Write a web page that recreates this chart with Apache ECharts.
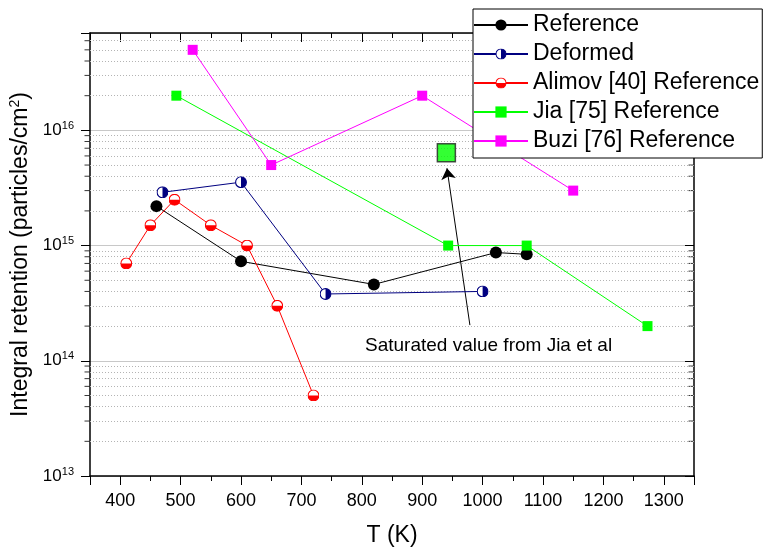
<!DOCTYPE html>
<html>
<head>
<meta charset="utf-8">
<script src="https://cdn.jsdelivr.net/npm/echarts@6.0.0/dist/echarts.min.js"></script>
<style>html,body{margin:0;padding:0;background:#fff}#main{width:770px;height:547px}</style>
</head>
<body>
<div id="main"></div>
<script>
// values (T in K, retention in particles/cm2)
var refT = [460, 600, 820, 1022, 1073];
var refR = [2.2e15, 7.3e14, 4.6e14, 8.7e14, 8.4e14];
var defT = [470, 600, 740, 1000];
var defR = [2.9e15, 3.55e15, 3.8e14, 4.0e14];
var alimovT = [410, 450, 490, 550, 610, 660, 720];
var alimovR = [7e14, 1.5e15, 2.5e15, 1.5e15, 1.0e15, 3.0e14, 5.0e13];
var jiaT = [493, 943, 1073, 1273];
var jiaR = [2e16, 1e15, 1e15, 2e14];
var buziT = [520, 650, 900, 1150];
var buziR = [5e16, 5e15, 2e16, 3e15];
var satT = [940];
var satR = [6.4e15];
var arrowFrom = [979, 2.04e14];
var arrowTo = [941, 4.69e15];
var names = ["Reference", "Deformed", "Alimov [40] Reference", "Jia [75] Reference", "Buzi [76] Reference"];
var minorMult = [2, 3, 4, 5, 6, 7, 8, 9];
var decades = [13, 14, 15, 16];
var xMin = 350, xMax = 1350, yMin = 1e13, yMax = 7e16;

var FONT = 'Arial, "Liberation Sans", sans-serif';

function zip(a, b) {
  return a.map(function (v, i) { return [v, b[i]]; });
}
var minorVals = [];
decades.forEach(function (d) {
  minorMult.forEach(function (m) {
    var v = m * Math.pow(10, d);
    if (v < yMax * 0.999) minorVals.push(v);
  });
});

function svgSym(svg) {
  return "image://data:image/svg+xml;charset=utf-8," + encodeURIComponent(svg);
}
var halfRight = svgSym("<svg xmlns='http://www.w3.org/2000/svg' width='24' height='24' viewBox='0 0 24 24'>" +
  "<circle cx='12' cy='12' r='10.8' fill='white' stroke='#000080' stroke-width='2.2'/>" +
  "<path d='M12 1.2 A10.8 10.8 0 0 1 12 22.8 Z' fill='#000080'/></svg>");
var halfBottom = svgSym("<svg xmlns='http://www.w3.org/2000/svg' width='24' height='24' viewBox='0 0 24 24'>" +
  "<circle cx='12' cy='12' r='10.8' fill='white' stroke='#ff0000' stroke-width='2.2'/>" +
  "<path d='M1.2 12 A10.8 10.8 0 0 0 22.8 12 Z' fill='#ff0000'/></svg>");

function supLabel(v) {
  var e = Math.log10(v), r = Math.round(e);
  if (Math.abs(e - r) > 1e-6) return "";
  return "{b|10}{s|" + r + "}";
}

var tickStyle = { color: "#000", width: 1 };
var chart = echarts.init(document.getElementById("main"));
chart.setOption({
  animation: false,
  backgroundColor: "#fff",
  textStyle: { fontFamily: FONT },
  grid: { left: 90, right: 76, top: 33, bottom: 71, containLabel: false, outerBoundsMode: "none" },
  legend: {
    data: names,
    orient: "vertical",
    left: 473, top: 9, z: 20,
    padding: [4, 3, 5, 0],
    itemWidth: 54, itemHeight: 14, itemGap: 5,
    backgroundColor: "#fff",
    borderColor: "#000", borderWidth: 1, borderRadius: 0,
    textStyle: { fontSize: 23, color: "#000", fontFamily: FONT, lineHeight: 24 }
  },
  xAxis: [{
    type: "value", min: xMin, max: xMax, splitNumber: 10,
    name: "T (K)", nameLocation: "middle", nameGap: 48,
    nameTextStyle: { fontSize: 23, color: "#000", fontFamily: FONT },
    axisLine: { lineStyle: { color: "#000", width: 1.5 } },
    axisTick: { show: true, length: 9, lineStyle: tickStyle },
    minorTick: { show: true, splitNumber: 2, length: 5, lineStyle: tickStyle },
    axisLabel: {
      fontSize: 18, color: "#000", margin: 16, showMinLabel: false, showMaxLabel: false, fontFamily: FONT,
      formatter: function (v) { return String(v); }
    },
    splitLine: { show: false }
  }, {
    type: "value", position: "top", min: xMin, max: xMax, splitNumber: 10,
    axisLine: { lineStyle: { color: "#000", width: 1.5 } },
    axisTick: { show: true, inside: true, length: 9, lineStyle: tickStyle },
    minorTick: { show: true, splitNumber: 2, length: 5, lineStyle: tickStyle },
    axisLabel: { show: false },
    splitLine: { show: false }
  }],
  yAxis: [{
    type: "log", logBase: 10, min: yMin, max: yMax,
    name: "{a|Integral retention (particles/cm}{s|2}{a|)}",
    nameLocation: "middle", nameGap: 55,
    nameTextStyle: {
      rich: {
        a: { fontSize: 23, color: "#000", fontFamily: FONT },
        s: { fontSize: 14, color: "#000", fontFamily: FONT, padding: [0, 0, 11, 0] }
      }
    },
    axisLine: { lineStyle: { color: "#000", width: 1.5 } },
    axisTick: { show: true, length: 9, lineStyle: tickStyle },
    axisLabel: {
      margin: 16, formatter: supLabel,
      rich: {
        b: { fontSize: 17, color: "#000", fontFamily: FONT },
        s: { fontSize: 11, color: "#000", fontFamily: FONT, padding: [0, 0, 9, 0] }
      }
    },
    splitLine: { show: true, lineStyle: { color: "#c8c8c8", width: 1 } }
  }, {
    type: "log", logBase: 10, min: yMin, max: yMax, position: "right",
    axisLine: { lineStyle: { color: "#000", width: 1.5 } },
    axisTick: { show: true, inside: true, length: 9, lineStyle: tickStyle },
    axisLabel: { show: false },
    splitLine: { show: false }
  }],
  graphic: [{
    type: "text", left: 365, top: 336, z: 100,
    style: { text: "Saturated value from Jia et al", font: "19px " + FONT, fill: "#000" }
  }],
  series: [
    {
      // minor ticks (left, outward) + dotted minor grid
      type: "scatter", silent: true, z: 1, clip: false,
      data: minorVals.map(function (v) { return [xMin, v]; }),
      symbol: "rect", symbolSize: [5, 1], symbolOffset: [-3, 0],
      itemStyle: { color: "#000" },
      markLine: {
        silent: true, symbol: "none", label: { show: false },
        lineStyle: { color: "#b4b4b4", width: 1, type: [1, 2] },
        data: minorVals.map(function (v) { return { yAxis: v }; })
      }
    },
    {
      // minor ticks (right, inward)
      type: "scatter", silent: true, z: 1, clip: false,
      data: minorVals.map(function (v) { return [xMax, v]; }),
      symbol: "rect", symbolSize: [5, 1], symbolOffset: [-3, 0],
      itemStyle: { color: "#000" }
    },
    {
      name: names[0], type: "line", z: 5, data: zip(refT, refR),
      symbol: "circle", symbolSize: 12,
      lineStyle: { color: "#000", width: 1 },
      itemStyle: { color: "#000" }
    },
    {
      name: names[1], type: "line", z: 5, data: zip(defT, defR),
      symbol: halfRight, symbolSize: 12,
      lineStyle: { color: "#000080", width: 1 },
      itemStyle: { color: "#000080" }
    },
    {
      name: names[2], type: "line", z: 5, data: zip(alimovT, alimovR),
      symbol: halfBottom, symbolSize: 12,
      lineStyle: { color: "#ff0000", width: 1 },
      itemStyle: { color: "#ff0000" }
    },
    {
      name: names[3], type: "line", z: 5, data: zip(jiaT, jiaR),
      symbol: "rect", symbolSize: 10,
      lineStyle: { color: "#00ff00", width: 1 },
      itemStyle: { color: "#00ff00" }
    },
    {
      name: names[4], type: "line", z: 5, data: zip(buziT, buziR),
      symbol: "rect", symbolSize: 10,
      lineStyle: { color: "#ff00ff", width: 1 },
      itemStyle: { color: "#ff00ff" }
    },
    {
      type: "scatter", z: 6, data: zip(satT, satR),
      symbol: "rect", symbolSize: 18,
      itemStyle: { color: "#00ff00", borderColor: "#222", borderWidth: 1.5 },
      markLine: {
        silent: true, symbol: ["none", "arrow"], symbolSize: 11,
        label: { show: false },
        lineStyle: { color: "#000", width: 1, type: "solid" },
        data: [[{ coord: arrowFrom }, { coord: arrowTo }]]
      }
    }
  ]
});
</script>
</body>
</html>
